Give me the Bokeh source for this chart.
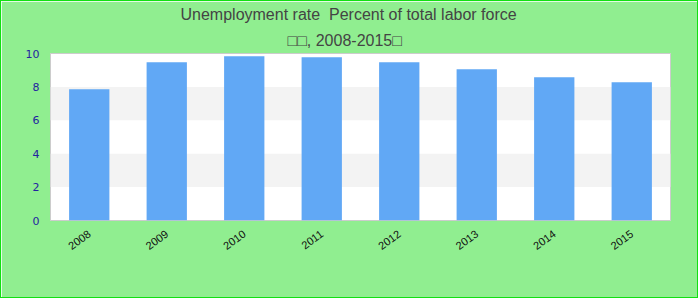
from bokeh.plotting import figure
from bokeh.models import Title
from bokeh.embed import file_html
from bokeh.resources import INLINE
import math

years = ["2008", "2009", "2010", "2011", "2012", "2013", "2014", "2015"]
rates = [7.86, 9.48, 9.84, 9.78, 9.48, 9.06, 8.58, 8.28]
title_line1 = "Unemployment rate\u00a0 Percent of total labor force"
title_line2 = "\u25a1\u25a1, 2008-2015\u25a1"

p = figure(x_range=years, y_range=(0, 10), width=698, height=298,
           output_backend="svg", toolbar_location=None,
           min_border_left=49, min_border_right=29, min_border_top=0, min_border_bottom=79,
           styles={"border": "1px solid #11e011"})
p.title.visible = False
p.add_layout(Title(text=title_line2, align="left", text_font="Liberation Sans",
                   text_font_size="16px", text_font_style="normal", text_color="#444444",
                   standoff=10, offset=237), "above")
p.add_layout(Title(text=title_line1, align="left", text_font="Liberation Sans",
                   text_font_size="16px", text_font_style="normal", text_color="#444444",
                   standoff=4, offset=130), "above")

p.vbar(x=years, top=rates, width=0.52, color="#61a8f5", line_color=None)

p.border_fill_color = "#90ee90"
p.background_fill_color = "white"
p.outline_line_color = "#cccccc"
p.outline_line_width = 1

p.xgrid.visible = False
p.ygrid.grid_line_color = None
p.ygrid.band_fill_color = "#f3f3f3"
p.ygrid.band_fill_alpha = 1

p.yaxis.ticker = [0, 2, 4, 6, 8, 10]
p.yaxis.axis_line_color = None
p.yaxis.major_tick_line_color = None
p.yaxis.minor_tick_line_color = None
p.yaxis.major_label_text_color = "#2323a0"
p.yaxis.major_label_text_font = "DejaVu Sans"
p.yaxis.major_label_text_font_size = "11px"
p.yaxis.major_label_standoff = 5

p.xaxis.axis_line_color = None
p.xaxis.major_tick_line_color = None
p.xaxis.major_label_orientation = math.pi / 5
p.xaxis.major_label_text_color = "#111111"
p.xaxis.major_label_text_font = "Liberation Sans"
p.xaxis.major_label_text_font_size = "11px"
p.xaxis.major_label_standoff = 6

open("out.html", "w").write(file_html(p, INLINE))
